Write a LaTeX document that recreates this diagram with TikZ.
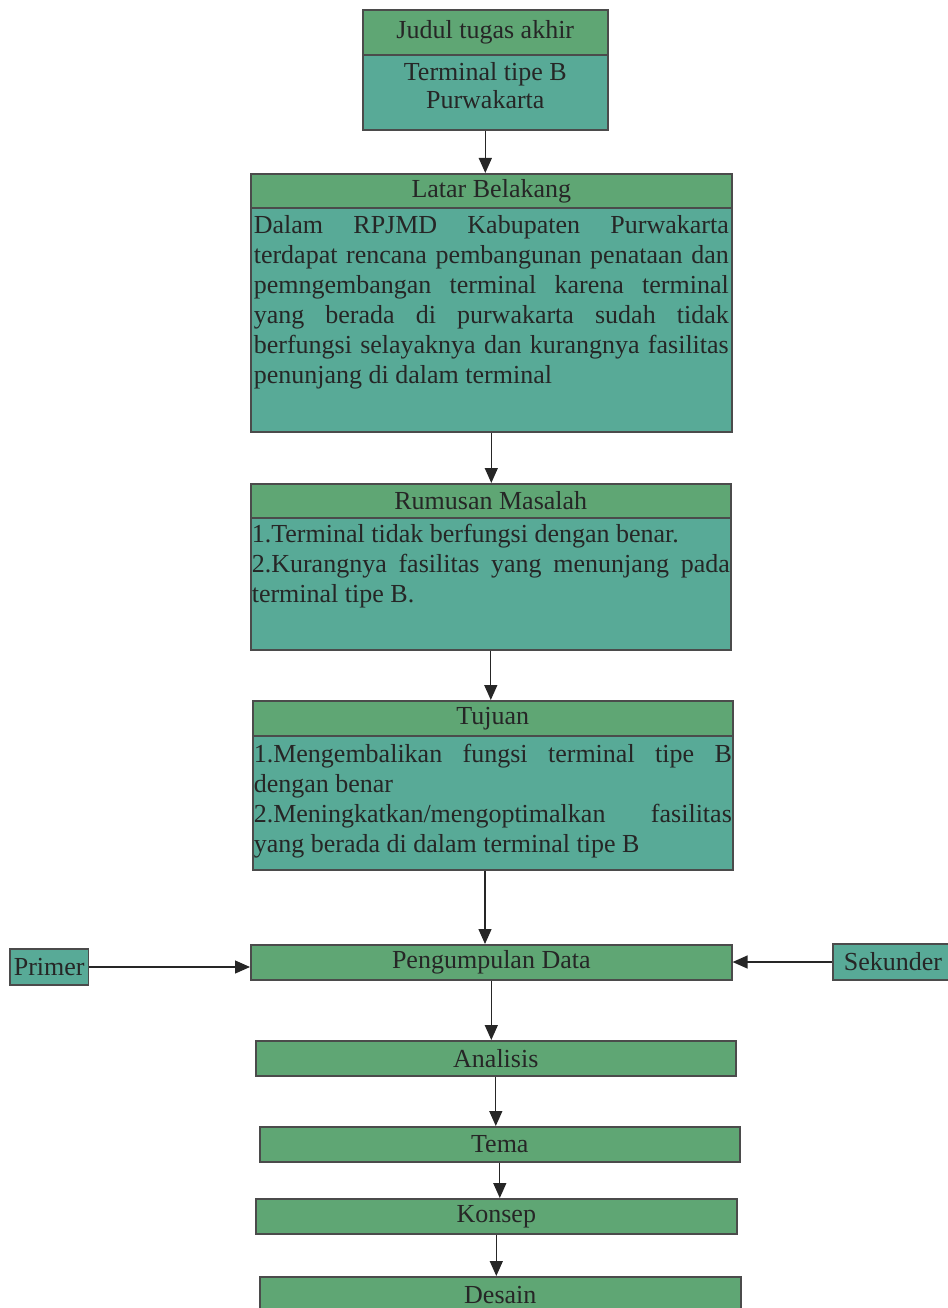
\documentclass[tikz,border=0pt]{standalone}
\usepackage{fontspec}
\setmainfont{Liberation Serif}
\usetikzlibrary{arrows.meta}
\definecolor{hdr}{RGB}{95,166,116}
\definecolor{bdy}{RGB}{88,170,151}
\definecolor{txt}{RGB}{38,38,38}
\definecolor{edgec}{RGB}{75,75,75}
\newcommand\bodytext[3]{\parbox[t][#1][t]{#2}{\hyphenpenalty=10000 \tolerance=10000 \hbadness=10000 #3}}
\begin{document}
\begin{tikzpicture}[x=1pt,y=-1pt,
  every node/.style={font=\fontsize{26}{30}\selectfont, text=txt},
  hdrbox/.style={draw=edgec, line width=1.6pt, fill=hdr, inner sep=0pt, anchor=north west},
  bodybox/.style={draw=edgec, line width=1.6pt, fill=bdy, inner ysep=0pt, anchor=north west},
  sidebox/.style={draw=edgec, line width=1.6pt, fill=bdy, inner ysep=0pt, minimum height=36pt, anchor=west},
  arr/.style={draw=txt, line width=1.3pt, -{Triangle[length=15pt,width=13pt]}}]
\useasboundingbox (0,0) rectangle (947,1308);

% Judul
\node[hdrbox, minimum width=245pt, minimum height=45pt] (jd-h) at (362,9) {Judul tugas akhir};
\node[bodybox, inner xsep=0pt] (jd) at (362,54) {\parbox[t][75pt][t]{245pt}{\centering\rule{0pt}{26pt}Terminal tipe B\\[-2pt]Purwakarta}};

% Latar Belakang
\node[hdrbox, minimum width=481pt, minimum height=34pt] (lb-h) at (250,173) {Latar Belakang};
\node[bodybox, inner xsep=3pt] (lb) at (250,207) {\bodytext{224pt}{475pt}{\rule{0pt}{26pt}Dalam RPJMD Kabupaten Purwakarta\linebreak terdapat rencana pembangunan penataan dan\linebreak pemngembangan terminal karena terminal\linebreak yang berada di purwakarta sudah tidak\linebreak berfungsi selayaknya dan kurangnya fasilitas\linebreak penunjang di dalam terminal}};

% Rumusan Masalah
\node[hdrbox, minimum width=480pt, minimum height=34pt] (rm-h) at (250,483) {Rumusan Masalah};
\node[bodybox, inner xsep=1pt] (rm) at (250,517) {\bodytext{132pt}{478pt}{\rule{0pt}{25pt}1.Terminal tidak berfungsi dengan benar.\par 2.Kurangnya fasilitas yang menunjang pada\linebreak terminal tipe B.}};

% Tujuan
\node[hdrbox, minimum width=480pt, minimum height=35pt] (tj-h) at (252,700) {Tujuan};
\node[bodybox, inner xsep=1pt] (tj) at (252,735) {\bodytext{134pt}{478pt}{\rule{0pt}{27pt}1.Mengembalikan fungsi terminal tipe B\linebreak dengan benar\par 2.Meningkatkan/mengoptimalkan fasilitas\linebreak yang berada di dalam terminal tipe B}};

% single boxes
\node[hdrbox, minimum width=481pt, minimum height=35pt] (pd) at (250,944) {Pengumpulan Data};
\node[hdrbox, minimum width=480pt, minimum height=35pt] (an) at (255,1040) {Analisis};
\node[hdrbox, minimum width=480pt, minimum height=35pt] (tm) at (259,1126) {Tema};
\node[hdrbox, minimum width=481pt, minimum height=35pt] (ks) at (255,1198) {Konsep};
\node[hdrbox, minimum width=481pt, minimum height=36pt] (ds) at (259,1276) {Desain};

% side boxes
\node[sidebox, inner xsep=4pt] (pr) at (9,967) {Primer};
\node[sidebox, inner xsep=11pt] (sk) at (832,962) {Sekunder};

% connectors
\coordinate (tjx) at (485,0);
\draw[arr] (jd.south) -- (jd.south |- lb-h.north);
\draw[arr] (lb.south) -- (lb.south |- rm-h.north);
\draw[arr] (rm.south) -- (rm.south |- tj-h.north);
\draw[arr] (tj.south -| tjx) -- (pd.north -| tjx);
\draw[arr] (pd.south) -- (pd.south |- an.north);
\draw[arr] (an.south) -- (an.south |- tm.north);
\draw[arr] (tm.south) -- (tm.south |- ks.north);
\draw[arr] (ks.south) -- (ks.south |- ds.north);
\draw[arr] (pr.east) -- (pr.east -| pd.west);
\draw[arr] (sk.west) -- (sk.west -| pd.east);
\end{tikzpicture}
\end{document}
